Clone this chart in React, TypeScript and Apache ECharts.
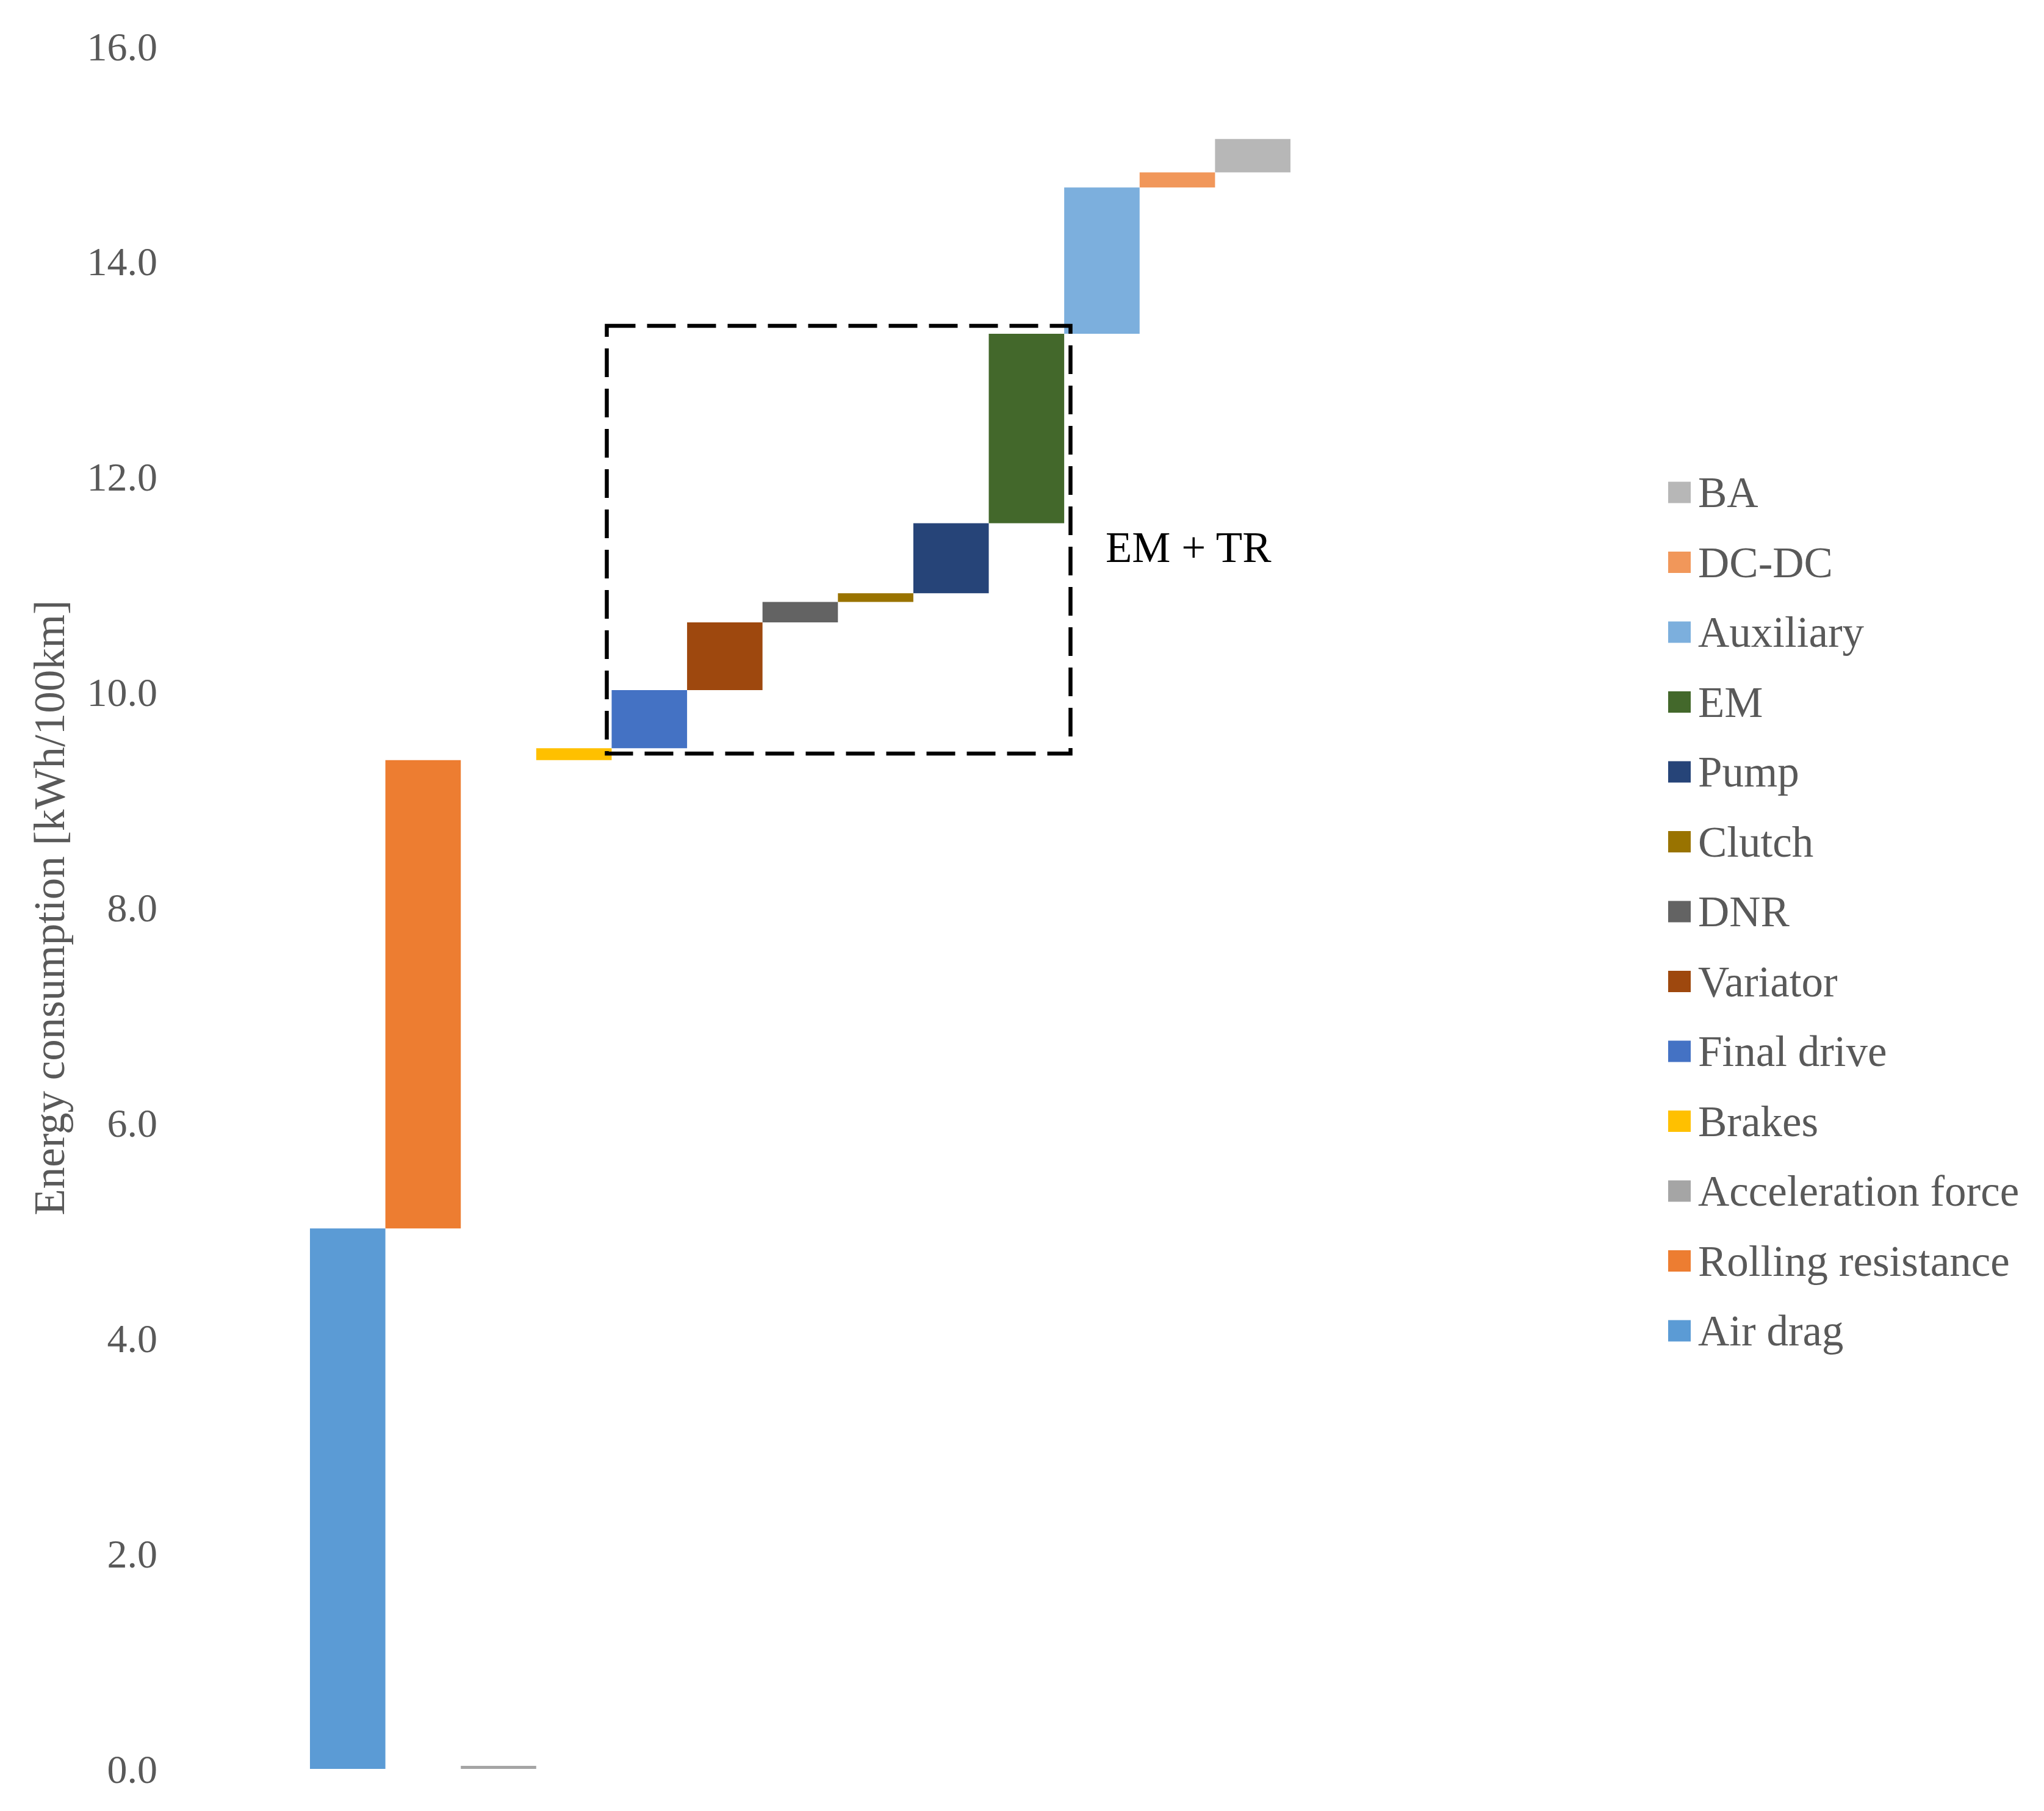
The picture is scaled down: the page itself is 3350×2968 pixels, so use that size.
import React, { useEffect, useRef } from 'react';
import * as echarts from 'echarts';

const categories = ['Air drag', 'Rolling resistance', 'Acceleration force', 'Brakes', 'Final drive', 'Variator', 'DNR', 'Clutch', 'Pump', 'EM', 'Auxiliary', 'DC-DC', 'BA'];
const values = [5.02, 4.35, 0, 0.11, 0.54, 0.63, 0.19, 0.08, 0.65, 1.76, 1.36, 0.14, 0.31];
const colors = ['#5B9BD5', '#ED7D31', '#A5A5A5', '#FFC000', '#4472C4', '#9E480E', '#636363', '#997300', '#264478', '#43682B', '#7CAFDD', '#F1975A', '#B7B7B7'];
const yMin = 0;
const yMax = 16;
const yInterval = 2;
const yTitle = 'Energy consumption [kWh/100km]';
const boxLabel = 'EM + TR';

const FONT = '"Liberation Serif", "Times New Roman", serif';

export default function App() {
  const ref = useRef<HTMLDivElement>(null);
  useEffect(() => {
    if (!ref.current) return;
    const chart = echarts.init(ref.current, undefined, { renderer: 'svg' });
    const base: (number | string)[] = [];
    let acc = 0;
    values.forEach((v, i) => {
      // zero-valued steps (acceleration force) are drawn on the zero line, as in the source
      base.push(i === 0 || acc === 0 || v === 0 ? '-' : +acc.toFixed(4));
      acc += v;
    });
    const series: any[] = [
      {
        name: '__base',
        type: 'bar',
        stack: 'w',
        data: base,
        itemStyle: { color: 'rgba(0,0,0,0)' },
        silent: true,
        barCategoryGap: '0%',
      },
    ];
    categories.forEach((c, i) => {
      const s: any = {
        name: c,
        type: 'bar',
        stack: 'w',
        data: categories.map((_, j) => (j === i ? values[i] : '-')),
        itemStyle: { color: colors[i] },
        barCategoryGap: '0%',
      };
      if (values[i] === 0) {
        s.barMinHeight = 5;
        s.clip = false;
      }
      series.push(s);
    });
    chart.setOption({
      animation: false,
      backgroundColor: '#ffffff',
      grid: { left: 508, right: 1235, top: 76, bottom: 69, containLabel: false },
      xAxis: {
        type: 'category',
        data: categories,
        axisLine: { show: false },
        axisTick: { show: false },
        axisLabel: { show: false },
        splitLine: { show: false },
      },
      yAxis: {
        type: 'value',
        min: yMin,
        max: yMax,
        interval: yInterval,
        axisLine: { show: false },
        axisTick: { show: false },
        splitLine: { show: false },
        axisLabel: {
          formatter: (v: number) => v.toFixed(1),
          color: '#595959',
          fontSize: 66,
          fontFamily: FONT,
          margin: 250,
        },
        name: yTitle,
        nameLocation: 'middle',
        nameRotate: 90,
        nameGap: 392,
        nameTextStyle: { color: '#595959', fontSize: 71, fontFamily: FONT },
      },
      legend: {
        orient: 'vertical',
        left: 2729,
        top: 766,
        itemWidth: 37,
        itemHeight: 35,
        itemGap: 42.5,
        icon: 'rect',
        data: [...categories].reverse(),
        textStyle: { color: '#595959', fontSize: 71, fontFamily: FONT, lineHeight: 72, padding: [0, 0, 0, 7] },
      },
      graphic: [
        {
          type: 'rect',
          z: 100,
          shape: { x: 994.5, y: 534, width: 760, height: 701 },
          style: { fill: 'none', stroke: '#000000', lineWidth: 6.5, lineDash: [47, 19] },
        },
        {
          type: 'text',
          z: 100,
          x: 1812,
          y: 897,
          style: { text: boxLabel, fill: '#000000', fontSize: 71, fontFamily: FONT, verticalAlign: 'middle', align: 'left' },
        },
      ],
      series,
    });
    return () => chart.dispose();
  }, []);
  return <div ref={ref} style={{ position: 'fixed', left: 0, top: 0, width: 3350, height: 2968, background: '#fff' }} />;
}
